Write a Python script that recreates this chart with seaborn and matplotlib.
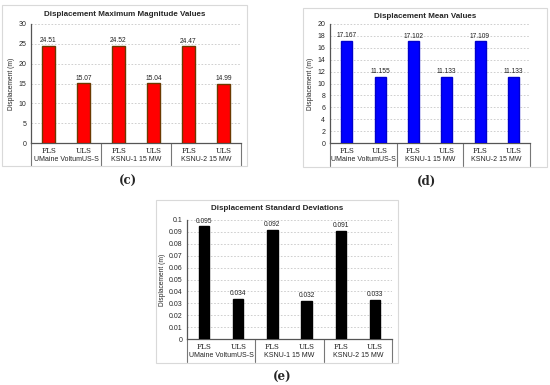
import pandas as pd
import numpy as np
import matplotlib
matplotlib.use("Agg")
import matplotlib.pyplot as plt
import matplotlib.transforms as mtransforms
from matplotlib.patches import Rectangle
import seaborn as sns

# =============================
# Données
# =============================
platforms = ["UMaine VoltumUS-S", "KSNU-1 15 MW", "KSNU-2 15 MW"]
states = ["FLS", "ULS"]

max_values = [24.51, 15.07, 24.52, 15.04, 24.47, 14.99]
mean_values = [17.167, 11.155, 17.102, 11.133, 17.109, 11.133]
std_values = [0.095, 0.034, 0.092, 0.032, 0.091, 0.033]

max_labels = ["24.51", "15.07", "24.52", "15.04", "24.47", "14.99"]
mean_labels = ["17.167", "11.155", "17.102", "11.133", "17.109", "11.133"]
std_labels = ["0.095", "0.034", "0.092", "0.032", "0.091", "0.033"]

sns.set_style("white")
plt.rcParams["font.family"] = ["Liberation Sans", "DejaVu Sans"]

W, H = 550, 385
fig = plt.figure(figsize=(W / 100, H / 100), dpi=100)


def px_box(x0, y0, x1, y1):
    # pixels (haut-gauche) -> fraction de figure
    return [x0 / W, 1 - y1 / H, (x1 - x0) / W, (y1 - y0) / H]


def make_panel(ax_px, frame_px, values, labels, title, ticks, ticklabels,
               color, edge, width, panel_tag, tag_px):
    fx0, fy0, fx1, fy1 = frame_px
    fig.patches.append(Rectangle((fx0 / W, 1 - fy1 / H), (fx1 - fx0) / W,
                                 (fy1 - fy0) / H, transform=fig.transFigure,
                                 fill=False, edgecolor="#d9d9d9", lw=0.8))
    fig.text((fx0 + fx1) / 2 / W, 1 - (fy0 + 9) / H, title, ha="center",
             va="center", fontsize=5.8, fontweight="bold")
    fig.text(tag_px[0] / W, 1 - tag_px[1] / H, panel_tag, ha="center",
             va="center", fontsize=8.5, fontweight="bold", family="DejaVu Serif")

    ax = fig.add_axes(px_box(*ax_px))
    df = pd.DataFrame({
        "cat": [f"{p}|{s}" for p in platforms for s in states],
        "val": values,
    })
    order = list(df["cat"])
    sns.barplot(data=df, x="cat", y="val", order=order, color=color,
                width=width, edgecolor=edge, linewidth=1.0, saturation=1,
                ax=ax, zorder=3)
    for i, (v, lab) in enumerate(zip(values, labels)):
        ax.text(i, v + (ticks[-1] * 0.012), lab, ha="center", va="bottom",
                fontsize=4.8, color="#222222")

    ax.set_xlim(-0.5, len(order) - 0.5)
    ax.set_ylim(ticks[0], ticks[-1])
    ax.set_yticks(ticks)
    ax.set_yticklabels(ticklabels, fontsize=5)
    ax.set_xticks(range(len(order)))
    ax.set_xticklabels([s for _ in platforms for s in states], fontsize=5.2,
                       family="DejaVu Serif")
    ax.tick_params(axis="x", length=0, pad=3)
    ax.tick_params(axis="y", length=2, width=0.6, pad=1.5, color="#666666")
    ax.set_xlabel("")
    ax.set_ylabel("Displacement (m)", fontsize=4.8, labelpad=2)
    ax.yaxis.grid(True, ls=(0, (2, 2)), color="#c8c8c8", lw=0.6)
    ax.set_axisbelow(True)
    for s in ["top", "right"]:
        ax.spines[s].set_visible(False)
    for s in ["left", "bottom"]:
        ax.spines[s].set_color("#555555")
        ax.spines[s].set_linewidth(0.9)

    trans = mtransforms.blended_transform_factory(ax.transData, ax.transAxes)
    for k, p in enumerate(platforms):
        ax.text(2 * k + 0.5, -0.14, p, transform=trans, ha="center",
                va="center", fontsize=5, color="#222222")
    for b in [-0.5, 1.5, 3.5, 5.5]:
        ax.plot([b, b], [0, -0.19], transform=trans, color="#777777",
                lw=0.8, clip_on=False)
    return ax


make_panel((31, 24, 241, 143), (2, 5, 247, 166), max_values, max_labels,
           "Displacement Maximum Magnitude Values",
           list(range(0, 31, 5)), [str(t) for t in range(0, 31, 5)],
           "#ff0000", "#6b3a00", 0.36, "(c)", (128, 181))

make_panel((330, 24, 530, 143), (303, 8, 547, 167), mean_values, mean_labels,
           "Displacement Mean Values",
           list(range(0, 21, 2)), [str(t) for t in range(0, 21, 2)],
           "#0000ff", "#0000cc", 0.33, "(d)", (427, 181))

std_ticks = [round(0.01 * i, 2) for i in range(11)]
std_ticklabels = ["0"] + [f"{t:g}" for t in std_ticks[1:]]
make_panel((187, 220, 392, 339), (156, 200, 398, 363), std_values, std_labels,
           "Displacement Standard Deviations",
           std_ticks, std_ticklabels,
           "#000000", "#000000", 0.3, "(e)", (282, 377))

fig.savefig("out.png", dpi=100)
